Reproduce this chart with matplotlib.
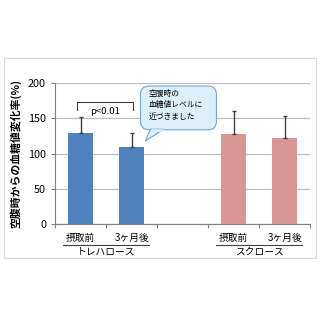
import matplotlib
matplotlib.use("Agg")
import matplotlib.pyplot as plt
from matplotlib.patches import FancyBboxPatch, Rectangle, Polygon

plt.rcParams['font.family'] = ['Noto Sans CJK JP', 'DejaVu Sans']

groups = ['トレハロース', 'スクロース']
categories = ['摂取前', '3ヶ月後', '摂取前', '3ヶ月後']
positions = [0, 1, 3, 4]
values = [130, 109, 128, 123]
errors = [22, 21, 32, 31]
colors = ['#4F81BD', '#4F81BD', '#D99694', '#D99694']
yticks = [0, 50, 100, 150, 200]
ylabel = '空腹時からの血糖値変化率(%)'
pval = 'p<0.01'
note = '空腹時の\n血糖値レベルに\n近づきました'

fig = plt.figure(figsize=(3.2, 3.2), dpi=100)
fig.patch.set_facecolor('white')
# chart area frame
fig.patches.append(Rectangle((0.012, 0.195), 0.976, 0.625, transform=fig.transFigure,
                             fill=False, edgecolor='#D9D9D9', linewidth=0.8))

ax = fig.add_axes([0.172, 0.299, 0.797, 0.441])
ax.bar(positions, values, width=0.5, color=colors, zorder=3)
ax.errorbar(positions, values, yerr=[[0]*4, errors], fmt='none', ecolor='#404040',
            elinewidth=1.0, capsize=1.5, capthick=1.0, zorder=4)
ax.set_xlim(-0.5, 4.5)
ax.set_ylim(0, 200)
ax.set_yticks(yticks)
ax.tick_params(axis='y', labelsize=7.8, length=3, color='#808080', labelcolor='#000000')
ax.set_xticks([-0.5, 0.5, 1.5, 2.5, 3.5, 4.5])
ax.set_xticklabels([])
ax.tick_params(axis='x', length=3, color='#808080')
ax.yaxis.grid(True, color='#BFBFBF', linewidth=0.9, zorder=0)
ax.set_axisbelow(True)
for s in ['top', 'right']:
    ax.spines[s].set_visible(False)
ax.spines['left'].set_color('#808080')
ax.spines['bottom'].set_color('#808080')
ax.set_ylabel(ylabel, fontsize=7.8, fontweight='bold', labelpad=5)

for p, c in zip(positions, categories):
    ax.text(p, -19, c, ha='center', va='center', fontsize=7, clip_on=False)

group_centers = [0.5, 3.5]
for gc, g in zip(group_centers, groups):
    ax.plot([gc - 0.85, gc + 0.85], [-29.5, -29.5], color='#404040', lw=0.8, clip_on=False)
    ax.text(gc, -39, g, ha='center', va='center', fontsize=7, clip_on=False)

# bracket
ax.plot([-0.07, -0.07, 1.02, 1.02], [162, 174, 174, 162], color='#404040', lw=0.8, zorder=5)
ax.text(0.48, 160, pval, ha='center', va='center', fontsize=6.8, zorder=5)

# callout
fc, ec = '#DDEFFA', '#6FA8DC'
box = FancyBboxPatch((1.175, 134), 1.49, 62, boxstyle='round,pad=0,rounding_size=0.17',
                     mutation_aspect=72, facecolor=fc, edgecolor=ec,
                     linewidth=0.8, zorder=6)
ax.add_patch(box)
tail = Polygon([[1.37, 134.8], [1.27, 118], [1.63, 134.8]], closed=True,
               facecolor=fc, edgecolor=ec, linewidth=0.8, zorder=6)
ax.add_patch(tail)
ax.plot([1.385, 1.615], [134.3, 134.3], color=fc, lw=1.8, zorder=7, solid_capstyle='butt')
ax.text(1.34, 168.5, note, ha='left', va='center', fontsize=5.6, linespacing=1.55, zorder=8)

fig.savefig('out.png', dpi=100)
